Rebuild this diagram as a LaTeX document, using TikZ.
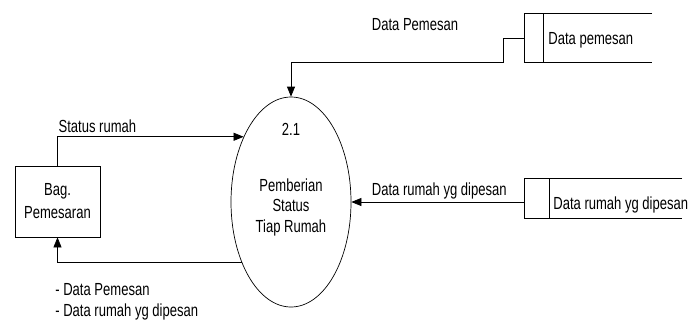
\documentclass[tikz,border=0pt]{standalone}
\usepackage{fontspec}
\setmainfont{Liberation Sans}[FakeStretch=0.745]
\usepackage{tikz}
\usetikzlibrary{arrows.meta, positioning, shapes.geometric}

\begin{document}
\begin{tikzpicture}[x=1pt, y=-1pt, line width=0.7pt,
		every node/.style={font=\fontsize{17.5}{20.5}\selectfont, inner sep=0pt},
		flow/.style={draw, -{Triangle[length=10pt,width=8pt]}},
		lbl/.style={anchor=base west}]
	\useasboundingbox (0,0) rectangle (698,325);
	% proses
	\node[ellipse, draw, minimum width=120pt, minimum height=210pt, align=center, text height=60pt, text depth=0pt] (proc) at (291,202) {Pemberian\\Status\\Tiap Rumah};
	\node[anchor=base] (num) at (291,135) {2.1};
	% entitas luar
	\node[rectangle, draw, minimum width=85pt, minimum height=71pt, align=center, text height=33.6pt, text depth=0pt, font=\fontsize{17.5}{23.3}\selectfont] (bag) at (57.5,201.5) {Bag.\\Pemesaran};
	% data store
	\node[lbl] (dp) at (548,44.5) {Data pemesan};
	\draw (652,13) -| (524,62) -- (652,62);
	\draw (543,13) -- (543,62);
	\coordinate (dpin) at (524,38);
	\node[lbl] (dr) at (553,209.3) {Data rumah yg dipesan};
	\draw (682,178) -| (524,218) -- (682,218);
	\draw (549,178) -- (549,218);
	\coordinate (drin) at (524,202);
	% aliran
	\draw[flow] (dpin) -- (503,38) -- (503,62) -| (proc.north);
	\node[lbl] (l1) at (371.5,30.7) {Data Pemesan};
	\draw[flow] (drin) -- (proc.east);
	\node[lbl] (l2) at (371.5,195) {Data rumah yg dipesan};
	\draw[flow] (bag.north) |- (proc.126);
	\node[lbl] (l3) at (58.3,132.7) {Status rumah};
	\draw[flow] (proc.231) -| (bag.south);
	\node[lbl] (l4) at (55,295) {- Data Pemesan};
	\node[lbl] (l5) at ([yshift=-21.7pt]l4.base west) {- Data rumah yg dipesan};
\end{tikzpicture}
\end{document}
